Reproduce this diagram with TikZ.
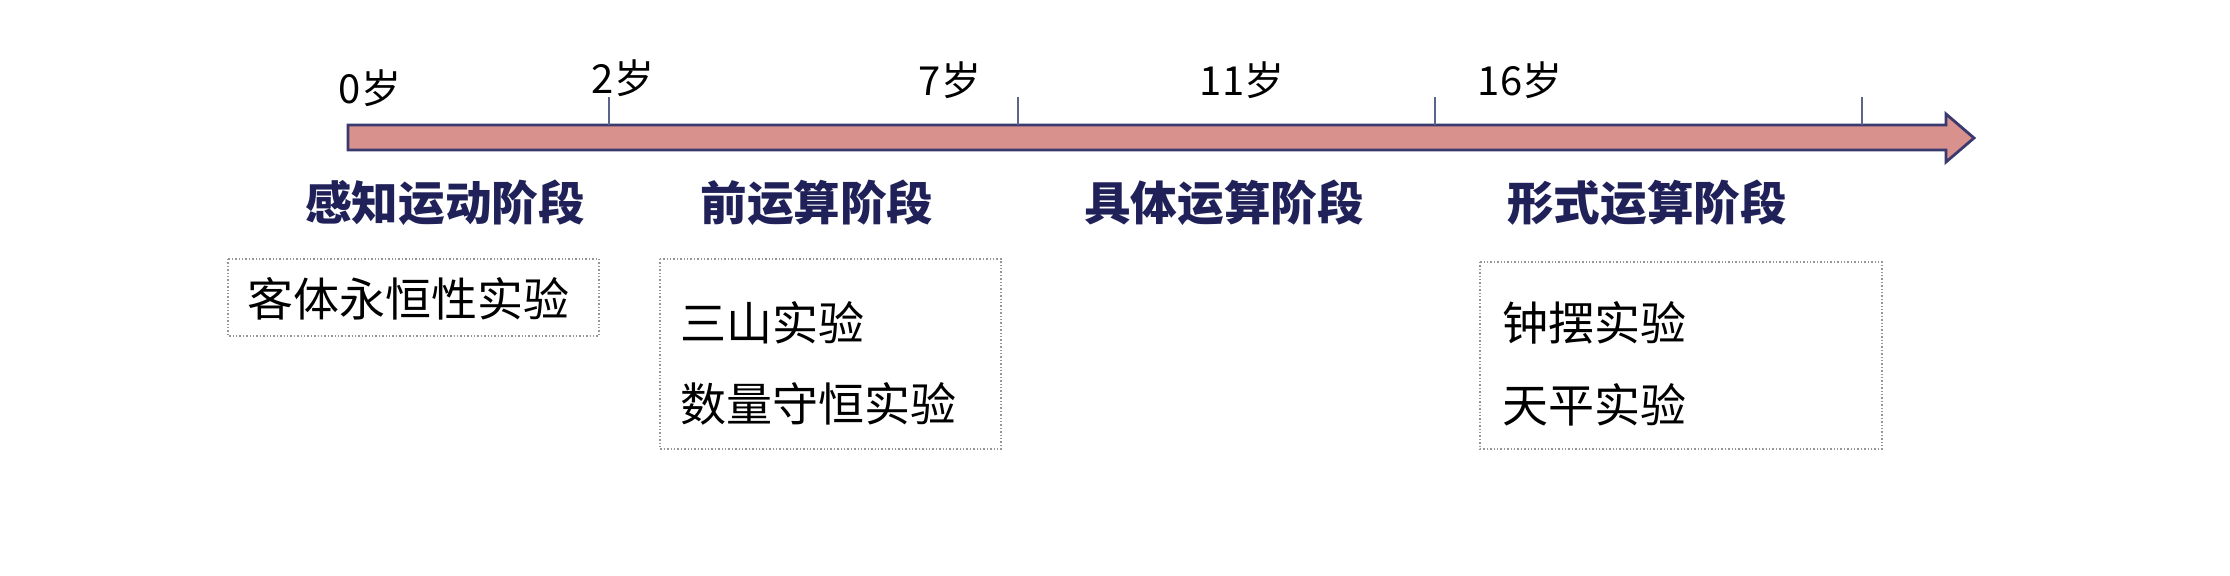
\documentclass[tikz,border=0pt]{standalone}
\usepackage{fontspec}
\setmainfont{Noto Sans CJK SC}
\definecolor{barfill}{RGB}{217,145,142}
\definecolor{barline}{RGB}{58,58,110}
\definecolor{tickc}{RGB}{90,100,140}
\definecolor{headc}{RGB}{33,33,90}
\definecolor{boxc}{RGB}{150,150,150}
\tikzset{
  agelbl/.style={inner sep=0pt, font=\fontsize{20pt}{24pt}\selectfont, text=black},
  stagelbl/.style={inner sep=0pt, font=\fontsize{23.3pt}{27pt}\selectfont\bfseries, text=headc},
  exptxt/.style={inner sep=0pt, anchor=west, font=\fontsize{23pt}{27pt}\selectfont, text=black},
  expbox/.style={draw=boxc, densely dotted, line width=0.7pt},
  tickline/.style={draw=tickc, line width=0.6pt}
}
\begin{document}
\begin{tikzpicture}[x=0.5pt,y=-0.5pt]
\path[fill=white] (0,0) rectangle (2230,575);
\useasboundingbox (0,0) rectangle (2230,575);
% timeline arrow
\filldraw[fill=barfill, draw=barline, line width=1.4pt, line join=miter]
  (348,125) -- (1946,125) -- (1946,114) -- (1974,138) -- (1946,162) -- (1946,150) -- (348,150) -- cycle;
% ticks
\coordinate (t2) at (609,97);
\coordinate (t7) at (1018,97);
\coordinate (t11) at (1435,97);
\coordinate (t16) at (1862,97);
\foreach \t in {t2,t7,t11,t16} \draw[tickline] (\t) -- ++(0,28);
% age labels
\node[agelbl] (a0) at (370,88) {0岁};
\node[agelbl] (a2) at (623,78) {2岁};
\node[agelbl] (a7) at (950,80) {7岁};
\node[agelbl] (a11) at (1242,80) {11岁};
\node[agelbl] (a16) at (1520,80) {16岁};
% stage labels
\node[stagelbl] (s1) at (445,203) {感知运动阶段};
\node[stagelbl] (s2) at (817,203) {前运算阶段};
\node[stagelbl] (s3) at (1224,203) {具体运算阶段};
\node[stagelbl] (s4) at (1647,203) {形式运算阶段};
% experiment boxes
\draw[expbox] (228,259) rectangle (599,336);
\node[exptxt, anchor=center] (e1) at (408,299) {客体永恒性实验};
\draw[expbox] (660,259) rectangle (1001,449);
\node[exptxt] (e2) at (680,323) {三山实验};
\node[exptxt] (e3) at (680,404) {数量守恒实验};
\draw[expbox] (1480,262) rectangle (1882,449);
\node[exptxt] (e4) at (1502,323) {钟摆实验};
\node[exptxt] (e5) at (1502,405) {天平实验};
\end{tikzpicture}
\end{document}
